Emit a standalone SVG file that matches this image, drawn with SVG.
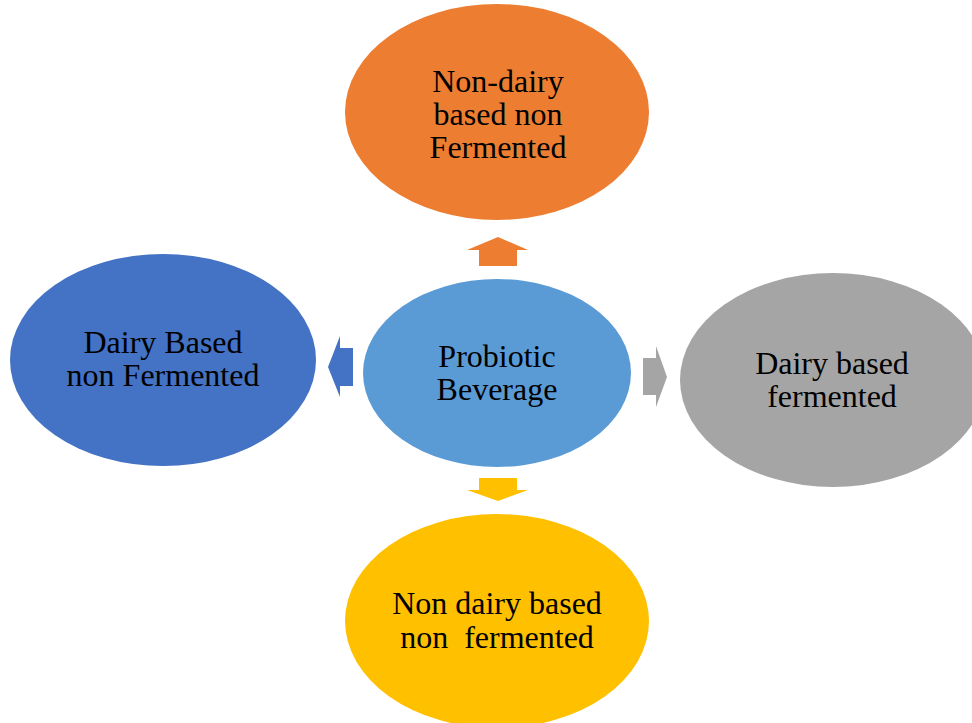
<svg xmlns="http://www.w3.org/2000/svg" width="972" height="723" viewBox="0 0 972 723">
<style>
text{font-family:"Liberation Serif","Times New Roman",serif;font-size:32px;fill:#000;text-anchor:middle;white-space:pre}
</style>
<rect width="972" height="723" fill="#fff"/>
<g id="connectors">
<polygon id="arrow-up" fill="#ED7D31" points="479,266 479,250 467,250 498,237 528,250 517,250 517,266"/>
<polygon id="arrow-left" fill="#4472C4" points="353,348 340,348 340,336 328,367 340,397 340,386 353,386"/>
<polygon id="arrow-right" fill="#A5A5A5" points="643,358 656,358 656,346 667,377 656,407 656,395 643,395"/>
<polygon id="arrow-down" fill="#FFC000" points="479,478 517,478 517,490 528,490 498,501 467,490 479,490"/>
</g>
<g id="node-top">
<ellipse cx="497" cy="112" rx="152" ry="108" fill="#ED7D31"/>
<text x="498" y="92">Non-dairy</text>
<text x="498" y="125">based non</text>
<text x="498" y="158">Fermented</text>
</g>
<g id="node-left">
<ellipse cx="163" cy="360" rx="153" ry="106" fill="#4472C4"/>
<text x="163" y="353">Dairy Based</text>
<text x="163" y="386">non Fermented</text>
</g>
<g id="node-center">
<ellipse cx="497" cy="373" rx="134" ry="94" fill="#5B9BD5"/>
<text x="497" y="367">Probiotic</text>
<text x="497" y="400">Beverage</text>
</g>
<g id="node-right">
<ellipse cx="833" cy="380" rx="153" ry="107" fill="#A5A5A5"/>
<text x="832" y="374">Dairy based</text>
<text x="832" y="407">fermented</text>
</g>
<g id="node-bottom">
<ellipse cx="497" cy="621" rx="152" ry="107" fill="#FFC000"/>
<text x="497" y="614">Non dairy based</text>
<text x="497" y="648">non  fermented</text>
</g>
</svg>
